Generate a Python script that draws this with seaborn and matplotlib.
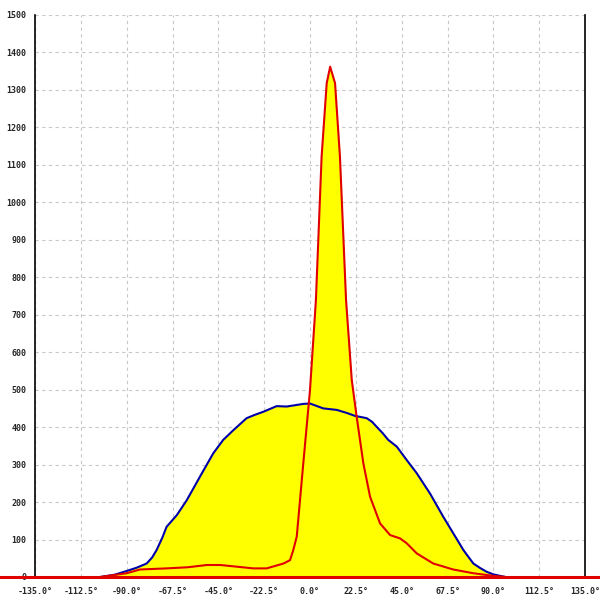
import numpy as np
import pandas as pd
import seaborn as sns
import matplotlib.pyplot as plt

# broad distribution (blue)
blue_x = [-103, -96, -90, -85, -80.2, -77.5, -75.3, -72.5, -70.4, -65.4, -60.5, -54,
          -47.5, -42.6, -37.6, -31.1, -27, -22.9, -16.4, -11.4, -3.3, 0, 6.5, 13.1,
          18, 22.1, 27.8, 30.5, 32.7, 35.5, 38.4, 42.6, 47.5, 52.4, 58.9, 65.4, 70.3,
          75.3, 78, 80.2, 83.5, 86.7, 90, 93.3, 96]
blue_y = [0, 6, 16, 25, 36, 52, 72, 105, 134, 165, 205, 268,
          330, 366, 392, 424, 433, 441, 456, 455, 462, 463, 450, 446,
          438, 430, 424, 414, 401, 385, 366, 348, 312, 277, 223, 161, 117,
          72, 52, 36, 24, 14, 7, 3, 0]

# sharp distribution (red)
red_x = [-103, -90, -83.5, -70.4, -60, -50.7, -44, -35, -27.8, -21.3, -13, -9.8,
         -8.2, -6.5, -3.3, 0, 2.9, 5.7, 8.2, 9.9, 12.3, 14.7, 17.7, 20.5, 22.9,
         26.2, 29.5, 34.4, 39.3, 44.2, 47.5, 52.4, 60.5, 70.3, 80.2, 90, 96]
red_y = [0, 10, 20, 23, 26, 32, 32, 27, 23, 23, 36, 45,
         72, 108, 303, 499, 739, 1122, 1318, 1362, 1318, 1122, 739, 526, 428,
         303, 214, 143, 112, 103, 90, 63, 36, 20, 10, 3, 0]

x_ticks = np.arange(-135, 135.1, 22.5)
y_ticks = np.arange(0, 1501, 100)

df_blue = pd.DataFrame({"angle": blue_x, "count": blue_y})
df_red = pd.DataFrame({"angle": red_x, "count": red_y})

sns.set_theme(style="white")
plt.rcParams["font.family"] = ["DejaVu Sans Mono"]

fig = plt.figure(figsize=(6, 6), dpi=100)
ax = fig.add_axes([35 / 600, 23 / 600, 550 / 600, 562 / 600])

# yellow area under both curves
ax.fill_between(df_blue["angle"], df_blue["count"], color="#ffff00", lw=0, zorder=1)
ax.fill_between(df_red["angle"], df_red["count"], color="#ffff00", lw=0, zorder=1)

sns.lineplot(data=df_blue, x="angle", y="count", color="#0000a8", linewidth=1.5,
             ax=ax, zorder=3)
sns.lineplot(data=df_red, x="angle", y="count", color="#e00000", linewidth=1.5,
             ax=ax, zorder=4)

ax.axhline(0, xmin=-0.07, xmax=1.03, color="#e00000", linewidth=2.2,
           clip_on=False, zorder=5)

ax.set_xlim(-135, 135)
ax.set_ylim(0, 1500)
ax.set_xticks(x_ticks)
ax.set_xticklabels([f"{v:.1f}°" for v in x_ticks])
ax.set_yticks(y_ticks)
ax.set_yticklabels([f"{int(v)}" for v in y_ticks])
ax.set_xlabel("")
ax.set_ylabel("")

ax.grid(True, color="#c8c8c8", linestyle=(0, (3, 3)), linewidth=0.8, zorder=0)
ax.set_axisbelow(True)

for side in ["left", "right", "bottom"]:
    ax.spines[side].set_color("black")
    ax.spines[side].set_linewidth(1.2)
ax.spines["top"].set_visible(False)

ax.tick_params(axis="x", direction="out", length=5, width=1.2, color="black",
               labelsize=6.0, pad=2.5)
ax.tick_params(axis="y", direction="inout", length=8, width=1.2, color="black",
               labelsize=6.0, pad=2)
for lab in ax.get_xticklabels() + ax.get_yticklabels():
    lab.set_fontweight("bold")

fig.savefig("out.png", dpi=100)
plt.close(fig)
